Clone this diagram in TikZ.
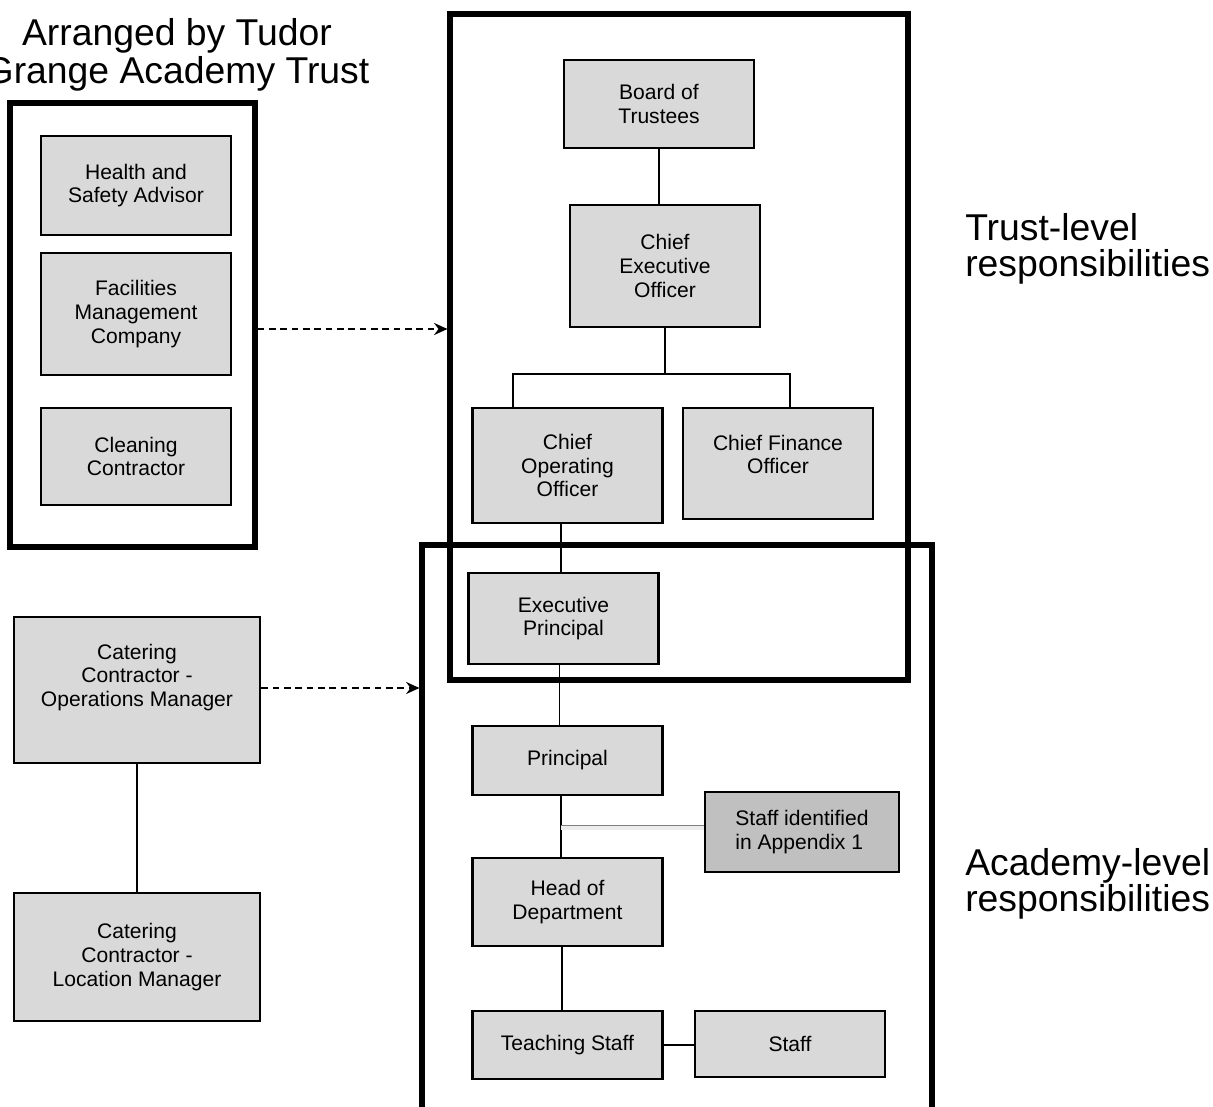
\documentclass[tikz,border=0pt]{standalone}
\usepackage{fontspec}
\setmainfont{Liberation Sans}
\usetikzlibrary{arrows.meta}

\definecolor{boxgray}{HTML}{D9D9D9}
\definecolor{darkbox}{HTML}{C0C0C0}

\tikzset{
  role/.style={draw, line width=2.2pt, fill=boxgray, align=center, inner sep=0pt,
    font=\fontsize{15.8}{17.8}\selectfont},
  wide/.style={minimum width=142.5pt},
  frame/.style={draw, line width=3.8pt, inner sep=0pt},
  link/.style={line width=1.1pt},
  hand/.style={dashed, dash pattern=on 5pt off 3.5pt, line width=1.5pt, -{Stealth[length=10pt,width=9pt]}},
  level/.style={align=left, inner sep=0pt, font=\fontsize{28}{27}\selectfont}
}

\begin{document}
\begin{tikzpicture}[x=0.75pt, y=-0.75pt]
      \useasboundingbox (0,0) rectangle (1213,1106);

      % Frames
      \node[frame, minimum width=382.5pt, minimum height=427.5pt] (academy) at (677,830) {};
      \node[frame, minimum width=343.5pt, minimum height=499.5pt] (trust) at (679,347) {};
      \node[frame, minimum width=183.75pt, minimum height=333pt] (tgat) at (132.5,325) {};

      % Boxes
      \node[role, wide, minimum height=74.25pt] (hsa) at (136,185.5) {Health and\\Safety Advisor};
      \node[role, wide, minimum height=91.5pt] (fmc) at (136,314) {Facilities\\Management\\Company};
      \node[role, wide, minimum height=72.75pt] (clean) at (136,456.5) {Cleaning\\Contractor};

      \node[role, wide, minimum height=66pt] (board) at (659,104) {Board of\\Trustees};
      \node[role, wide, minimum height=91.5pt] (ceo) at (665,266) {Chief\\Executive\\Officer};
      \node[role, wide, minimum height=86.25pt] (coo) at (567.5,465.5) {Chief\\Operating\\Officer};
      \node[role, wide, minimum height=83.25pt] (cfo) at (778,463.5) {Chief Finance\\Officer\\[-4pt]};

      \node[role, wide, minimum height=68.25pt] (exec) at (563.5,618.5) {Executive\\Principal};
      \node[role, wide, minimum height=51.75pt] (principal) at (567.5,760.5) {Principal};
      \node[role, fill=darkbox, minimum width=145.5pt, minimum height=60pt, align=left] (appendix) at (802,832) {Staff identified\\in Appendix 1};
      \node[role, wide, minimum height=66pt] (hod) at (567.5,902) {Head of\\Department};
      \node[role, wide, minimum height=51pt] (teach) at (567.5,1045) {Teaching Staff};
      \node[role, wide, minimum height=49.5pt] (staff) at (790,1044) {Staff};

      \node[role, minimum width=184.5pt, minimum height=109.5pt] (ops) at (137,690) {Catering\\Contractor -\\Operations Manager\\[4.5pt]};
      \node[role, minimum width=184.5pt, minimum height=96pt] (loc) at (137,957) {Catering\\Contractor -\\Location Manager};

      % Labels
      \node[align=center, inner sep=0pt, font=\fontsize{28}{29}\selectfont] (arranged) at (177,55) {Arranged by Tudor\\Grange Academy Trust};
      \node[level, anchor=west] (trustlevel) at (965,249) {Trust-level\\responsibilities};
      \node[level, anchor=west] (academylevel) at (965,884) {Academy-level\\responsibilities};

      % Lines
      \coordinate (fork) at (665,374);
      \draw[link] (board.south) -- (board.south |- ceo.north);
      \draw[link] (ceo.south) -- (fork);
      \draw[link] ([xshift=-41pt]coo.north) |- (fork) -| ([xshift=9pt]cfo.north);
      \draw[link] ([xshift=-5pt]coo.south) -- ([xshift=-5pt]coo.south |- exec.north);
      \draw[link] ([xshift=-3pt]exec.south) -- ([xshift=-3pt]exec.south |- principal.north);
      \draw[link] ([xshift=-5pt]principal.south) -- ([xshift=-5pt]principal.south |- hod.north);
      \draw[gray!15, line width=3pt] ([yshift=3pt]appendix.west) -- ([xshift=-5pt,yshift=3pt]appendix.west -| principal.south);
      \draw[gray, line width=0.9pt] ([yshift=5pt]appendix.west) -- ([xshift=-5pt,yshift=5pt]appendix.west -| principal.south);
      \draw[link] ([xshift=-4pt]hod.south) -- ([xshift=-4pt]hod.south |- teach.north);
      \draw[link] (teach.east) -- (teach.east -| staff.west);
      \draw[link] (ops.south) -- (loc.north);

      % Arrows
      \draw[hand] (tgat.east |- 0,329) -- (trust.west |- 0,329);
      \draw[hand] (ops.east |- 0,688) -- (academy.west |- 0,688);
\end{tikzpicture}
\end{document}
